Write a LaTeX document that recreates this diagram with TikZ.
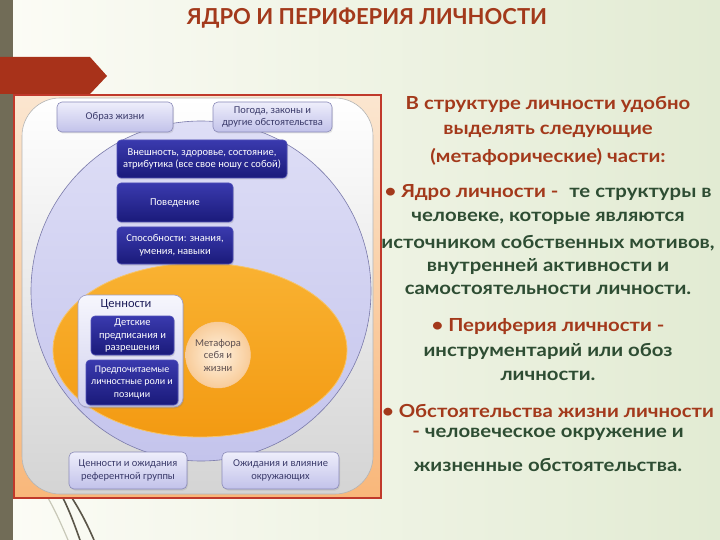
\documentclass[tikz,border=0pt]{standalone}
\usepackage{fontspec}
\setmainfont{Carlito}
\newfontfamily\gothic[FakeStretch=1.13]{Lato}
\newfontfamily\titlefont{Lato}
\usetikzlibrary{shapes.geometric,shadows}
\definecolor{txtred}{HTML}{A3391B}
\definecolor{txtgreen}{HTML}{2E4D33}
\definecolor{barcol}{HTML}{716C57}
\definecolor{arrowred}{HTML}{A8321A}
\definecolor{framered}{HTML}{C0392B}
\definecolor{darkA}{HTML}{3A3AAE}
\definecolor{darkB}{HTML}{1A1A7A}
\definecolor{darkE}{HTML}{5050B8}
\definecolor{lightA}{HTML}{EEEEFB}
\definecolor{lightB}{HTML}{C2C2EA}
\definecolor{lightE}{HTML}{8A8AB8}
\definecolor{lightT}{HTML}{3A3A6A}
\definecolor{bgL}{HTML}{FCFCF6}
\definecolor{bgR}{HTML}{E2EBD3}
\definecolor{frT}{HTML}{FBE6D0}
\definecolor{frB}{HTML}{F9B77A}
\definecolor{grT}{HTML}{FFFFFF}
\definecolor{grB}{HTML}{D4D4D4}
\definecolor{grE}{HTML}{B4B4B4}
\definecolor{cirT}{HTML}{DEDEF6}
\definecolor{cirB}{HTML}{C4C4EC}
\definecolor{cirE}{HTML}{7A7AAA}
\definecolor{orT}{HTML}{F9B232}
\definecolor{orB}{HTML}{F39A12}
\definecolor{orE}{HTML}{F6C46A}
\definecolor{metIn}{HTML}{FFF2E0}
\definecolor{metOut}{HTML}{F8CC9A}
\definecolor{metT}{HTML}{5E5050}
\definecolor{valT}{HTML}{F6F6FD}
\definecolor{valB}{HTML}{D0D0EE}
\definecolor{valE}{HTML}{A0A0C8}
\definecolor{valText}{HTML}{1E1E5A}
\definecolor{decoD}{HTML}{5A5548}
\definecolor{decoL}{HTML}{C8C8B8}
\tikzset{
  boxfont/.style={font=\fontsize{10.5}{12.5}\selectfont},
  darkbox/.style={boxfont, draw=darkE, line width=0.6pt, rounded corners=4pt,
    top color=darkA, bottom color=darkB, text=white, align=center, inner sep=2pt,
    drop shadow={opacity=0.25, shadow xshift=1pt, shadow yshift=-1.5pt}},
  lightbox/.style={boxfont, draw=lightE, line width=0.6pt, rounded corners=5pt,
    top color=lightA, bottom color=lightB, text=lightT, align=center, inner sep=2pt,
    drop shadow={opacity=0.2, shadow xshift=1pt, shadow yshift=-1.5pt}},
  rline/.style={font=\gothic\bfseries\fontsize{18}{21}\selectfont, text=txtgreen, inner sep=0pt, anchor=center},
}
\begin{document}
\begin{tikzpicture}[x=1pt,y=-1pt]
% background
\shade[left color=bgL, right color=bgR] (0,0) rectangle (720,540);
\useasboundingbox (0,0) rectangle (720,540);
\fill[barcol] (0,0) rectangle (13,540);
% decorative lines
\draw[decoL, line width=1.2pt] (48,498) .. controls (56,512) and (62,526) .. (68,540);
\draw[decoD, line width=1.6pt] (63,498) .. controls (70,512) and (75,526) .. (80,540);
\draw[decoD, line width=1.6pt] (72,498) .. controls (81,512) and (88,526) .. (94,540);
% title
\node[font=\titlefont\bfseries\fontsize{22}{25}\selectfont, text=txtred, inner sep=0pt] (title) at (367,18) {ЯДРО И ПЕРИФЕРИЯ ЛИЧНОСТИ};
% red arrow
\fill[arrowred] (0,57) -- (90,57) -- (107,76) -- (90,94) -- (0,94) -- cycle;
% frame
\shade[top color=frT, bottom color=frB] (14,95) rectangle (381,498);
\draw[framered, line width=1.5pt] (14,95) rectangle (381,498);
% inner rounded panel
\shade[top color=grT, bottom color=grB, rounded corners=38pt] (22,98) rectangle (373,494);
\draw[grE, line width=0.6pt, rounded corners=38pt] (22,98) rectangle (373,494);
% big circle
\shade[top color=cirT, bottom color=cirB] (201,291) circle[radius=170pt];
\draw[cirE, line width=0.6pt] (201,291) circle[radius=170pt];
% orange ellipse
\shade[top color=orT, bottom color=orB] (200,350) ellipse[x radius=147pt, y radius=87pt];
\draw[orE, line width=0.8pt] (200,350) ellipse[x radius=147pt, y radius=87pt];
% boxes
\node[lightbox, minimum width=116pt, minimum height=30pt] (obraz) at (115,117) {Образ жизни};
\node[lightbox, minimum width=119pt, minimum height=30pt] (pogoda) at (272.5,117) {Погода, законы и\\другие обстоятельства};
\node[darkbox, minimum width=170pt, minimum height=38pt] (vnesh) at (202,159) {Внешность, здоровье, состояние,\\атрибутика (все свое ношу с собой)};
\node[darkbox, minimum width=116pt, minimum height=39pt] (poved) at (175,202.5) {Поведение};
\node[darkbox, minimum width=116pt, minimum height=37pt] (sposob) at (175,245.5) {Способности: знания,\\умения, навыки};
\node[draw=valE, line width=0.7pt, rounded corners=9pt, top color=valT, bottom color=valB,
  minimum width=105pt, minimum height=112pt, drop shadow={opacity=0.25, shadow xshift=1pt, shadow yshift=-1.5pt}] (cenbox) at (130.5,351) {};
\node[font=\fontsize{12.5}{14}\selectfont, text=valText, inner sep=0pt] (centitle) at (126,304) {Ценности};
\node[darkbox, minimum width=83pt, minimum height=39pt] (detsk) at (132.5,335.5) {Детские\\предписания и\\разрешения};
\node[darkbox, minimum width=92pt, minimum height=45pt, font=\fontsize{10}{12.5}\selectfont] (predp) at (132,382.5) {Предпочитаемые\\личностные роли и\\позиции};
\node[ellipse, inner color=metIn, outer color=metOut, draw=metOut, minimum width=61pt, minimum height=66pt,
  boxfont, text=metT, align=center, inner sep=0pt] (metaf) at (218,355) {Метафора\\себя и\\жизни};
\node[lightbox, minimum width=118pt, minimum height=37pt] (refgr) at (128,470.5) {Ценности и ожидания\\референтной группы};
\node[lightbox, minimum width=117pt, minimum height=37pt] (okruzh) at (280.5,470.5) {Ожидания и влияние\\окружающих};
% right text
\node[rline, text=txtred] (t1) at (548,104) {В структуре личности удобно};
\node[rline, text=txtred] (t2) at (548,131) {выделять следующие};
\node[rline, text=txtred] (t3) at (548,157) {(метафорические) части:};
\node[rline] (t4) at (548,193) {\textcolor{txtred}{• Ядро личности -}\hspace{0.6em}те структуры в};
\node[rline] (t5) at (548,218) {человеке, которые являются};
\node[rline] (t6) at (548,243) {источником собственных мотивов,};
\node[rline] (t7) at (548,266) {внутренней активности и};
\node[rline] (t8) at (548,290) {самостоятельности личности.};
\node[rline, text=txtred] (t9) at (548,327) {• Периферия личности -};
\node[rline] (t10) at (548,351) {инструментарий или обоз};
\node[rline] (t11) at (548,376) {личности.};
\node[rline, text=txtred] (t12) at (548,411) {• Обстоятельства жизни личности};
\node[rline] (t13) at (548,434) {\textcolor{txtred}{-} человеческое окружение и};
\node[rline] (t14) at (548,465) {жизненные обстоятельства.};
\end{tikzpicture}
\end{document}
